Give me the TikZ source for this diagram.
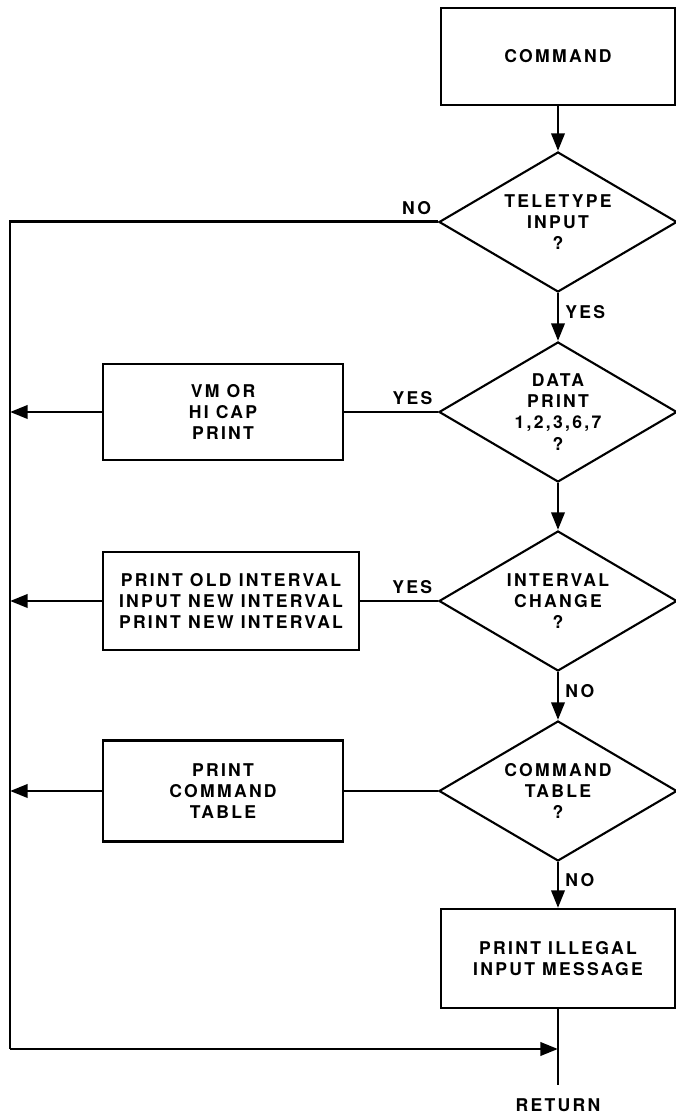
\documentclass[tikz,border=0pt]{standalone}
\usepackage{fontspec}
\setmainfont{TeX Gyre Heros}[LetterSpace=13]
\usepackage{tikz}
\usetikzlibrary{shapes.geometric, arrows.meta, positioning, calc}

\begin{document}
\begin{tikzpicture}[
  proc/.style={draw, line width=1.2pt, minimum width=#1, align=center, inner sep=2pt, font=\fontsize{10}{12}\selectfont\bfseries},
  proc/.default=4.8cm,
  decision/.style={draw, diamond, aspect=1.7, line width=1.2pt, inner sep=0pt, minimum width=4.76cm, minimum height=2.8cm, align=center, font=\fontsize{10}{12}\selectfont\bfseries},
  arr/.style={-{Triangle[length=10pt, width=7.5pt]}, line width=1.7pt},
  line/.style={line width=1.7pt},
  lbl/.style={font=\fontsize{10}{12}\selectfont\bfseries},
]
\useasboundingbox (0,0) rectangle (13.52,22.36);

% Boxes
\node[proc=4.68cm, minimum height=1.94cm] (command) at (11.16, 21.23) {COMMAND};
\node[proc, minimum height=1.92cm] (vmbox) at (4.46, 14.12) {VM OR\\HI CAP\\PRINT};
\node[proc=5.12cm, minimum height=1.96cm] (intbox) at (4.62, 10.34) {PRINT OLD INTERVAL\\INPUT NEW INTERVAL\\PRINT NEW INTERVAL};
\node[proc, minimum height=2.02cm] (tabbox) at (4.46, 6.54) {PRINT\\COMMAND\\TABLE};
\node[proc=4.68cm, minimum height=1.98cm] (illegal) at (11.16, 3.19) {PRINT ILLEGAL\\INPUT MESSAGE};

% Decisions
\node[decision] (tty) at (11.16, 17.92) {TELETYPE\\INPUT\\?};
\node[decision] (dprint) at (11.16, 14.12) {DATA\\PRINT\\1,2,3,6,7\\?};
\node[decision] (interval) at (11.16, 10.34) {INTERVAL\\CHANGE\\?};
\node[decision] (cmdtab) at (11.16, 6.54) {COMMAND\\TABLE\\?};

% Return
\coordinate (tl) at (0.2, 17.92);
\coordinate (bl) at (0.2, 1.38);
\coordinate (ret) at (11.16, 1.38);
\coordinate (retend) at (11.16, 0.66);
\node[lbl] (return) at (11.16, 0.26) {RETURN};

% Connections
\draw[arr] (command) -- (tty);
\draw[arr] (tty) -- node[lbl, right, pos=0.4] {YES} (dprint);
\draw[arr] (dprint) -- (interval);
\draw[arr] (interval) -- node[lbl, right, pos=0.4] {NO} (cmdtab);
\draw[arr] (cmdtab) -- node[lbl, right, pos=0.4] {NO} (illegal);
\draw[line] (illegal) -- (retend);
\draw[line] (tty.west) -- node[lbl, above, pos=0.05] {NO} (tl) -- (bl);
\draw[arr] (bl) -- (ret);

\draw[line] (dprint.west) -- node[lbl, above, pos=0.27] {YES} (vmbox.east);
\draw[line] (interval.west) -- node[lbl, above, pos=0.33] {YES} (intbox.east);
\draw[line] (cmdtab.west) -- (tabbox.east);
\draw[arr] (vmbox.west) -- (vmbox.west -| tl);
\draw[arr] (intbox.west) -- (intbox.west -| tl);
\draw[arr] (tabbox.west) -- (tabbox.west -| tl);

\end{tikzpicture}
\end{document}
